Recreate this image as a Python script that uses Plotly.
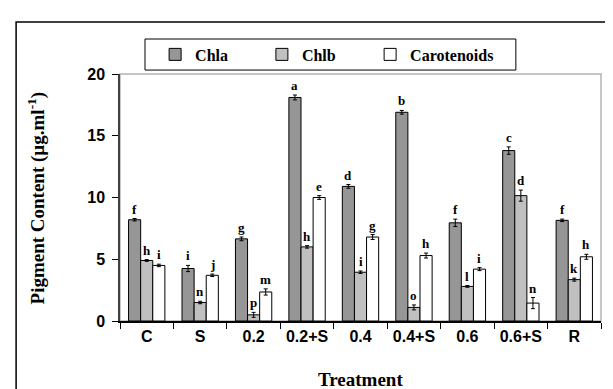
import plotly.graph_objects as go

categories = ["C", "S", "0.2", "0.2+S", "0.4", "0.4+S", "0.6", "0.6+S", "R"]
chla = [8.2, 4.25, 6.65, 18.1, 10.9, 16.9, 7.95, 13.8, 8.15]
chla_err = [0.1, 0.25, 0.15, 0.2, 0.15, 0.15, 0.3, 0.3, 0.1]
chlb = [4.9, 1.5, 0.5, 6.0, 3.95, 1.1, 2.8, 10.15, 3.35]
chlb_err = [0.07, 0.1, 0.2, 0.1, 0.1, 0.2, 0.07, 0.45, 0.12]
car = [4.5, 3.7, 2.35, 10.0, 6.8, 5.3, 4.2, 1.45, 5.2]
car_err = [0.1, 0.1, 0.25, 0.15, 0.2, 0.2, 0.12, 0.45, 0.2]
chla_lab = ["f", "i", "g", "a", "d", "b", "f", "c", "f"]
chlb_lab = ["h", "n", "p", "h", "i", "o", "l", "d", "k"]
car_lab = ["i", "j", "m", "e", "g", "h", "i", "n", "h"]

series = [
    ("Chla", chla, chla_err, chla_lab, "#969696", -12.1, "legend", 0.073),
    ("Chlb", chlb, chlb_err, chlb_lab, "#c0c0c0", 0.0, "legend2", 0.295),
    ("Carotenoids", car, car_err, car_lab, "#ffffff", 12.1, "legend3", 0.520),
]

leg_font = dict(family="Liberation Serif", size=16, color="#000000", weight="bold")

fig = go.Figure()
annotations = []
legends = {}
for name, vals, errs, labs, col, shift, leg, lx in series:
    fig.add_trace(go.Bar(
        name=name, x=categories, y=vals, legend=leg, showlegend=True,
        marker=dict(color=col, line=dict(color="#000000", width=1)),
        error_y=dict(type="data", array=errs, visible=True, color="#000000", thickness=1, width=2),
    ))
    legends[leg] = dict(
        orientation="h", x=lx, y=1.079, xanchor="left", yanchor="middle",
        borderwidth=0, bgcolor="rgba(0,0,0,0)", font=leg_font,
    )
    for i, (v, e, t) in enumerate(zip(vals, errs, labs)):
        annotations.append(dict(
            x=i, y=v + e, xref="x", yref="y", text=t, showarrow=False,
            xshift=shift, yshift=0, yanchor="bottom",
            font=dict(family="Liberation Serif", size=13, color="#000000", weight="bold"),
        ))

sans_bold = dict(family="Liberation Sans", size=16, color="#000000", weight="bold")

annotations.append(dict(
    x=0.5, y=-0.235, xref="paper", yref="paper", text="Treatment", showarrow=False,
    yanchor="middle", font=dict(family="Liberation Serif", size=19, color="#000000", weight="bold"),
))
annotations.append(dict(
    x=-0.1726, y=0.5, xref="paper", yref="paper",
    text="Pigment Content (µg.ml<sup>-1</sup>)", showarrow=False,
    textangle=-90, xanchor="center", yanchor="middle",
    font=dict(family="Liberation Serif", size=19, color="#000000", weight="bold"),
))

fig.update_layout(
    width=613, height=389,
    margin=dict(l=112, r=20, t=66, b=76),
    paper_bgcolor="#ffffff", plot_bgcolor="#ffffff",
    barmode="group", bargap=0.32, bargroupgap=0,
    showlegend=True,
    annotations=annotations,
    shapes=[
        dict(type="rect", xref="paper", yref="paper", x0=0, x1=1, y0=0, y1=1,
             line=dict(color="#b4b4b4", width=1.5), layer="below"),
        dict(type="rect", xref="paper", yref="paper", x0=-0.216, x1=1.06, y0=-0.34, y1=1.2105,
             line=dict(color="#000000", width=1.5), layer="below"),
        dict(type="rect", xref="paper", yref="paper", x0=0.052, x1=0.823, y0=1.016, y1=1.1417,
             line=dict(color="#000000", width=1), fillcolor="#ffffff", layer="below"),
    ],
    xaxis=dict(
        type="category", showline=True, linecolor="#000000", linewidth=1.5,
        ticks="outside", tickson="boundaries", ticklen=6, tickcolor="#000000",
        tickfont=sans_bold, showgrid=False, zeroline=False,
    ),
    yaxis=dict(
        range=[0, 20], tickvals=[0, 5, 10, 15, 20], showline=True,
        linecolor="#404040", linewidth=1.5, ticks="outside", ticklen=6,
        tickcolor="#000000", tickfont=sans_bold, showgrid=False, zeroline=False,
        ticklabelstandoff=4,
    ),
    **legends,
)

fig.write_html("out.html")
